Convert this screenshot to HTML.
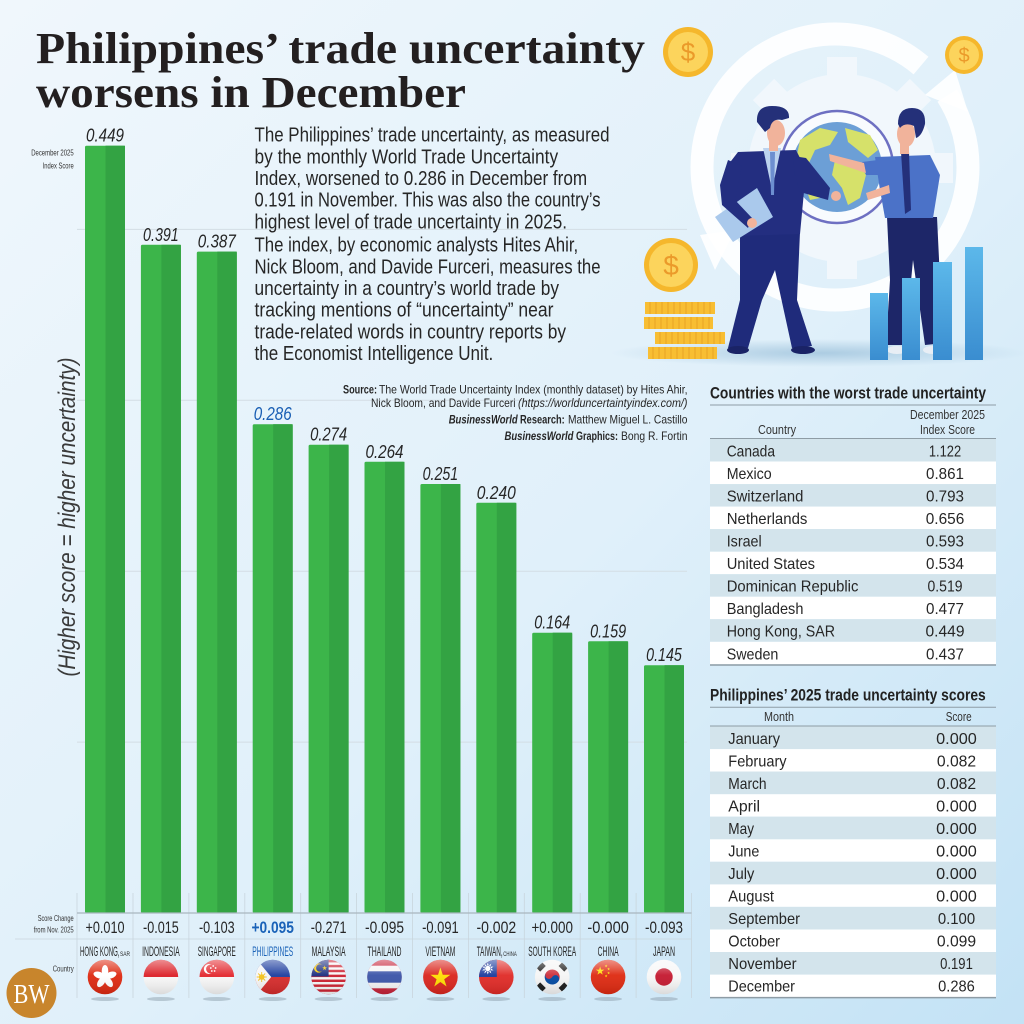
<!DOCTYPE html>
<html><head><meta charset="utf-8"><style>
html,body{margin:0;padding:0;width:1024px;height:1024px;overflow:hidden;background:#e6f3fb}
svg{display:block}
text{font-family:"Liberation Sans","DejaVu Sans",sans-serif;fill:#262626}
.sf{font-family:"Liberation Serif","DejaVu Serif",serif}
</style></head><body>
<svg width="1024" height="1024" viewBox="0 0 1024 1024" xmlns="http://www.w3.org/2000/svg">
<defs>
<linearGradient id="bg" x1="0" y1="0" x2="1" y2="1">
 <stop offset="0" stop-color="#f0f7fc"/>
 <stop offset="0.55" stop-color="#e0f0fa"/>
 <stop offset="1" stop-color="#c3e2f5"/>
</linearGradient>
<linearGradient id="gloss" x1="0" y1="0" x2="0" y2="1">
 <stop offset="0" stop-color="#fff" stop-opacity="0.5"/>
 <stop offset="0.45" stop-color="#fff" stop-opacity="0.05"/>
 <stop offset="1" stop-color="#000" stop-opacity="0.12"/>
</linearGradient>
<linearGradient id="bb" x1="0" y1="0" x2="0" y2="1">
 <stop offset="0" stop-color="#5cb8ea"/>
 <stop offset="1" stop-color="#3a8dd0"/>
</linearGradient>
<radialGradient id="flr" cx="0.5" cy="0.5" r="0.5">
 <stop offset="0" stop-color="#9fc3dc" stop-opacity="0.8"/>
 <stop offset="1" stop-color="#9fc3dc" stop-opacity="0"/>
</radialGradient>
<clipPath id="fc"><circle cx="0" cy="0" r="17.3"/></clipPath>
<polygon id="star" points="0,-1 0.2245,-0.309 0.951,-0.309 0.3633,0.118 0.5878,0.809 0,0.382 -0.5878,0.809 -0.3633,0.118 -0.951,-0.309 -0.2245,-0.309"/>
</defs>

<rect x="0" y="0" width="1024" height="1024" fill="url(#bg)"/>

<!-- ILLUSTRATION -->
<g>
 <ellipse cx="820" cy="353" rx="210" ry="14" fill="url(#flr)"/>
 <!-- gear -->
 <g transform="translate(842,168)" fill="#f4f9fd" opacity="0.85">
  <circle r="94"/>
  <rect x="-15" y="-111" width="30" height="30" transform="rotate(0)"/>
  <rect x="-15" y="-111" width="30" height="30" transform="rotate(45)"/>
  <rect x="-15" y="-111" width="30" height="30" transform="rotate(90)"/>
  <rect x="-15" y="-111" width="30" height="30" transform="rotate(135)"/>
  <rect x="-15" y="-111" width="30" height="30" transform="rotate(180)"/>
  <rect x="-15" y="-111" width="30" height="30" transform="rotate(225)"/>
  <rect x="-15" y="-111" width="30" height="30" transform="rotate(270)"/>
  <rect x="-15" y="-111" width="30" height="30" transform="rotate(315)"/>
 </g>
 <!-- ring -->
 <circle cx="835" cy="167" r="133" fill="none" stroke="#ffffff" stroke-width="23" opacity="0.9" stroke-dasharray="720 40 80 60"/>
 <polygon points="925,95 955,70 968,112" fill="#ffffff" opacity="0.9"/>
 <polygon points="700,235 735,230 715,270" fill="#ffffff" opacity="0.9"/>
 <!-- globe -->
 <circle cx="837" cy="167" r="56" fill="#f8fbfe"/>
 <circle cx="837" cy="167" r="56" fill="none" stroke="#6e70c2" stroke-width="2.5"/>
 <circle cx="837" cy="167" r="45" fill="#6c9fd6"/>
 <path d="M800,140 L820,128 L838,132 L830,145 L815,150 L808,165 L796,160 Z" fill="#d6e16a"/>
 <path d="M845,128 L870,135 L878,150 L868,158 L858,150 L848,142 Z" fill="#d6e16a"/>
 <path d="M835,160 L858,162 L866,175 L860,198 L848,205 L842,188 L832,175 Z" fill="#d6e16a"/>
 <path d="M802,178 L818,182 L820,198 L810,200 Z" fill="#d6e16a"/>
 <!-- man 1 -->
 <g>
  <polygon points="740,232 800,232 797,300 812,346 792,348 775,270 762,300 748,348 728,348 740,300" fill="#1f2b7b"/>
  <ellipse cx="738" cy="350" rx="11" ry="4" fill="#1a2366"/>
  <ellipse cx="803" cy="350" rx="12" ry="4" fill="#1a2366"/>
  <polygon points="738,152 796,150 806,170 800,234 737,236 724,190 728,165" fill="#232e80"/>
  <polygon points="763,148 781,148 772,190" fill="#bcd3ef"/>
  <polygon points="770,152 775,152 774,195 771,195" fill="#6d8fd0"/>
  <polygon points="793,156 806,158 830,188 828,200 800,192 795,175" fill="#232e80"/>
  <circle cx="836" cy="196" r="5" fill="#f1b39b"/>
  <polygon points="715,217 757,188 773,217 733,242" fill="#aac9ec"/>
  <polygon points="728,160 742,166 735,200 752,218 748,228 722,205 720,185" fill="#232e80"/>
  <circle cx="752" cy="223" r="5" fill="#f1b39b"/>
  <rect x="769" y="138" width="9" height="13" fill="#f1b39b"/>
  <ellipse cx="776" cy="133" rx="9" ry="13" fill="#f1b39b"/>
  <path d="M757,122 Q756,106 772,106 Q790,106 789,118 L782,120 Q772,118 770,128 L765,132 Z" fill="#243079"/>
 </g>
 <!-- man 2 -->
 <g>
  <polygon points="887,217 937,217 940,280 945,343 925,345 913,260 905,345 886,345 890,280" fill="#1d2668"/>
  <ellipse cx="897" cy="350" rx="10" ry="4" fill="#e8eef5"/>
  <ellipse cx="933" cy="350" rx="10" ry="4" fill="#e8eef5"/>
  <polygon points="875,157 930,155 940,175 933,218 885,218 880,190" fill="#4b72c8"/>
  <polygon points="901,152 909,152 911,210 905,214" fill="#24307a"/>
  <polygon points="878,160 890,175 866,175 862,162" fill="#4b72c8"/>
  <polygon points="864,163 866,173 830,161 829,154" fill="#f1b39b"/>
  <polygon points="889,185 890,193 868,200 866,193" fill="#f1b39b"/>
  <rect x="900" y="140" width="9" height="14" fill="#f1b39b"/>
  <ellipse cx="906" cy="134" rx="9" ry="13" fill="#f1b39b"/>
  <path d="M898,124 Q898,108 912,108 Q926,108 925,124 Q922,136 916,138 L914,126 Q905,122 900,128 Z" fill="#243079"/>
 </g>
 <!-- bars -->
 <rect x="870" y="293" width="18" height="67" fill="url(#bb)"/>
 <rect x="902" y="278" width="18" height="82" fill="url(#bb)"/>
 <rect x="933" y="262" width="19" height="98" fill="url(#bb)"/>
 <rect x="965" y="247" width="18" height="113" fill="url(#bb)"/>
 <!-- coins -->
 <g>
  <circle cx="688" cy="52" r="25" fill="#f5b72c"/>
  <circle cx="688" cy="52" r="20" fill="#fcd45c"/>
  <text x="688" y="61" font-size="26" text-anchor="middle" style="fill:#eb9a2a">$</text>
  <circle cx="964" cy="55" r="19" fill="#f5b72c"/>
  <circle cx="964" cy="55" r="15" fill="#fcd45c"/>
  <text x="964" y="62" font-size="20" text-anchor="middle" style="fill:#eb9a2a">$</text>
  <circle cx="671" cy="265" r="27" fill="#f5b72c"/>
  <circle cx="671" cy="265" r="22" fill="#fcd45c"/>
  <text x="671" y="275" font-size="28" text-anchor="middle" style="fill:#eb9a2a">$</text>
  <rect x="645" y="302" width="70" height="12" fill="#f8be33"/>
  <rect x="644" y="317" width="69" height="12" fill="#f8be33"/>
  <rect x="655" y="332" width="70" height="12" fill="#f8be33"/>
  <rect x="648" y="347" width="69" height="12" fill="#f8be33"/>
  <g stroke="#e39a1e" stroke-width="1" opacity="0.7">
   <path d="M650,302v12M656,302v12M662,302v12M668,302v12M674,302v12M680,302v12M686,302v12M692,302v12M698,302v12M704,302v12M710,302v12"/>
   <path d="M649,317v12M655,317v12M661,317v12M667,317v12M673,317v12M679,317v12M685,317v12M691,317v12M697,317v12M703,317v12M709,317v12"/>
   <path d="M660,332v12M666,332v12M672,332v12M678,332v12M684,332v12M690,332v12M696,332v12M702,332v12M708,332v12M714,332v12M720,332v12"/>
   <path d="M653,347v12M659,347v12M665,347v12M671,347v12M677,347v12M683,347v12M689,347v12M695,347v12M701,347v12M707,347v12M713,347v12"/>
  </g>
 </g>
</g>

<!-- TITLE -->
<text class="sf" x="36" y="63" font-size="44" font-weight="bold" textLength="609" lengthAdjust="spacingAndGlyphs" style="fill:#231f20">Philippines’ trade uncertainty</text>
<text class="sf" x="36" y="107" font-size="44" font-weight="bold" textLength="430" lengthAdjust="spacingAndGlyphs" style="fill:#231f20">worsens in December</text>

<!-- GRIDLINES -->
<g stroke="#d3dde4" stroke-width="1">
 <line x1="77" y1="229.4" x2="687" y2="229.4"/>
 <line x1="77" y1="400.3" x2="687" y2="400.3"/>
 <line x1="77" y1="571.2" x2="687" y2="571.2"/>
 <line x1="77" y1="742.1" x2="687" y2="742.1"/>
</g>

<!-- BODY TEXT -->
<g font-size="20" style="fill:#262626">
<text x="254.5" y="141.7" textLength="355" lengthAdjust="spacingAndGlyphs">The Philippines’ trade uncertainty, as measured</text>
<text x="254.5" y="163.4" textLength="303.6" lengthAdjust="spacingAndGlyphs">by the monthly World Trade Uncertainty</text>
<text x="254.5" y="185" textLength="332.6" lengthAdjust="spacingAndGlyphs">Index, worsened to 0.286 in December from</text>
<text x="254.5" y="206.7" textLength="346" lengthAdjust="spacingAndGlyphs">0.191 in November. This was also the country’s</text>
<text x="254.5" y="228.4" textLength="312.5" lengthAdjust="spacingAndGlyphs">highest level of trade uncertainty in 2025.</text>
<text x="254.5" y="251.7" textLength="323.7" lengthAdjust="spacingAndGlyphs">The index, by economic analysts Hites Ahir,</text>
<text x="254.5" y="273.4" textLength="346" lengthAdjust="spacingAndGlyphs">Nick Bloom, and Davide Furceri, measures the</text>
<text x="254.5" y="295" textLength="304.5" lengthAdjust="spacingAndGlyphs">uncertainty in a country’s world trade by</text>
<text x="254.5" y="316.7" textLength="299" lengthAdjust="spacingAndGlyphs">tracking mentions of “uncertainty” near</text>
<text x="254.5" y="338.4" textLength="311.6" lengthAdjust="spacingAndGlyphs">trade-related words in country reports by</text>
<text x="254.5" y="360" textLength="238.8" lengthAdjust="spacingAndGlyphs">the Economist Intelligence Unit.</text>
</g>

<!-- SOURCE -->
<g font-size="12" style="fill:#333">
<text x="343" y="393.5" font-weight="bold" textLength="34" lengthAdjust="spacingAndGlyphs">Source:</text>
<text x="379" y="393.5" textLength="308.5" lengthAdjust="spacingAndGlyphs">The World Trade Uncertainty Index (monthly dataset) by Hites Ahir,</text>
<text x="371" y="407" textLength="144.6" lengthAdjust="spacingAndGlyphs">Nick Bloom, and Davide Furceri</text>
<text x="518" y="407" font-style="italic" textLength="169.5" lengthAdjust="spacingAndGlyphs">(https://worlduncertaintyindex.com/)</text>
<text x="448.7" y="423.5" font-weight="bold" font-style="italic" textLength="69" lengthAdjust="spacingAndGlyphs">BusinessWorld</text>
<text x="520" y="423.5" font-weight="bold" textLength="44.7" lengthAdjust="spacingAndGlyphs">Research:</text>
<text x="568" y="423.5" textLength="119.5" lengthAdjust="spacingAndGlyphs">Matthew Miguel L. Castillo</text>
<text x="504.5" y="440" font-weight="bold" font-style="italic" textLength="69" lengthAdjust="spacingAndGlyphs">BusinessWorld</text>
<text x="576" y="440" font-weight="bold" textLength="42" lengthAdjust="spacingAndGlyphs">Graphics:</text>
<text x="621" y="440" textLength="66.5" lengthAdjust="spacingAndGlyphs">Bong R. Fortin</text>
</g>

<!-- AXIS LABELS -->
<text x="73.7" y="155.5" font-size="8.5" text-anchor="end" textLength="42.5" lengthAdjust="spacingAndGlyphs" style="fill:#333">December 2025</text>
<text x="73.7" y="168.5" font-size="8.5" text-anchor="end" textLength="31" lengthAdjust="spacingAndGlyphs" style="fill:#333">Index Score</text>
<text transform="translate(75,517) rotate(-90)" font-size="24" font-style="italic" text-anchor="middle" textLength="319" lengthAdjust="spacingAndGlyphs" style="fill:#3a3a3a">(Higher score = higher uncertainty)</text>

<!-- BARS -->
<g>
 <rect x="85" y="145.7" width="40" height="767.3" rx="1.5" fill="#3cb54a"/><rect x="105.5" y="145.7" width="19.5" height="767.3" fill="#33a343"/>
 <rect x="140.9" y="244.8" width="40" height="668.2" rx="1.5" fill="#3cb54a"/><rect x="161.4" y="244.8" width="19.5" height="668.2" fill="#33a343"/>
 <rect x="196.8" y="251.6" width="40" height="661.4" rx="1.5" fill="#3cb54a"/><rect x="217.3" y="251.6" width="19.5" height="661.4" fill="#33a343"/>
 <rect x="252.7" y="424.2" width="40" height="488.8" rx="1.5" fill="#3cb54a"/><rect x="273.2" y="424.2" width="19.5" height="488.8" fill="#33a343"/>
 <rect x="308.6" y="444.7" width="40" height="468.3" rx="1.5" fill="#3cb54a"/><rect x="329.1" y="444.7" width="19.5" height="468.3" fill="#33a343"/>
 <rect x="364.5" y="461.8" width="40" height="451.2" rx="1.5" fill="#3cb54a"/><rect x="385" y="461.8" width="19.5" height="451.2" fill="#33a343"/>
 <rect x="420.4" y="484" width="40" height="429" rx="1.5" fill="#3cb54a"/><rect x="440.9" y="484" width="19.5" height="429" fill="#33a343"/>
 <rect x="476.3" y="502.8" width="40" height="410.2" rx="1.5" fill="#3cb54a"/><rect x="496.8" y="502.8" width="19.5" height="410.2" fill="#33a343"/>
 <rect x="532.2" y="632.7" width="40" height="280.3" rx="1.5" fill="#3cb54a"/><rect x="552.7" y="632.7" width="19.5" height="280.3" fill="#33a343"/>
 <rect x="588.1" y="641.3" width="40" height="271.7" rx="1.5" fill="#3cb54a"/><rect x="608.6" y="641.3" width="19.5" height="271.7" fill="#33a343"/>
 <rect x="644" y="665.2" width="40" height="247.8" rx="1.5" fill="#3cb54a"/><rect x="664.5" y="665.2" width="19.5" height="247.8" fill="#33a343"/>
</g>

<!-- VALUE LABELS -->
<g font-size="18" font-style="italic" text-anchor="middle" style="fill:#262626">
 <text x="105" y="141.7" textLength="38" lengthAdjust="spacingAndGlyphs">0.449</text>
 <text x="160.9" y="240.8" textLength="35.7" lengthAdjust="spacingAndGlyphs">0.391</text>
 <text x="216.8" y="247.6" textLength="38" lengthAdjust="spacingAndGlyphs">0.387</text>
 <text x="272.7" y="420.2" textLength="38" lengthAdjust="spacingAndGlyphs" style="fill:#1a5fb4">0.286</text>
 <text x="328.6" y="440.7" textLength="37" lengthAdjust="spacingAndGlyphs">0.274</text>
 <text x="384.5" y="457.8" textLength="38" lengthAdjust="spacingAndGlyphs">0.264</text>
 <text x="440.4" y="480" textLength="35.5" lengthAdjust="spacingAndGlyphs">0.251</text>
 <text x="496.3" y="498.8" textLength="39" lengthAdjust="spacingAndGlyphs">0.240</text>
 <text x="552.2" y="628.7" textLength="36" lengthAdjust="spacingAndGlyphs">0.164</text>
 <text x="608.1" y="637.3" textLength="36" lengthAdjust="spacingAndGlyphs">0.159</text>
 <text x="664" y="661.2" textLength="35.7" lengthAdjust="spacingAndGlyphs">0.145</text>
</g>

<!-- BOTTOM GRID -->
<g stroke="#c9d5dd" stroke-width="0.8">
 <line x1="77" y1="893" x2="77" y2="998"/>
 <line x1="133" y1="893" x2="133" y2="998"/>
 <line x1="188.9" y1="893" x2="188.9" y2="998"/>
 <line x1="244.8" y1="893" x2="244.8" y2="998"/>
 <line x1="300.7" y1="893" x2="300.7" y2="998"/>
 <line x1="356.6" y1="893" x2="356.6" y2="998"/>
 <line x1="412.5" y1="893" x2="412.5" y2="998"/>
 <line x1="468.4" y1="893" x2="468.4" y2="998"/>
 <line x1="524.3" y1="893" x2="524.3" y2="998"/>
 <line x1="580.2" y1="893" x2="580.2" y2="998"/>
 <line x1="636.1" y1="893" x2="636.1" y2="998"/>
 <line x1="691.5" y1="893" x2="691.5" y2="998"/>
 <line x1="15" y1="939" x2="691.5" y2="939"/>
</g>
<line x1="77" y1="913" x2="691.5" y2="913" stroke="#a9b6bf" stroke-width="1.2"/>

<!-- SCORE CHANGE -->
<text x="73.7" y="921" font-size="8.5" text-anchor="end" textLength="36" lengthAdjust="spacingAndGlyphs" style="fill:#333">Score Change</text>
<text x="73.7" y="932.5" font-size="8.5" text-anchor="end" textLength="40" lengthAdjust="spacingAndGlyphs" style="fill:#333">from Nov. 2025</text>
<text x="73.7" y="971.5" font-size="8.5" text-anchor="end" textLength="21" lengthAdjust="spacingAndGlyphs" style="fill:#333">Country</text>
<g font-size="17" text-anchor="middle" style="fill:#3a3a3a">
 <text x="105" y="933" textLength="39" lengthAdjust="spacingAndGlyphs">+0.010</text>
 <text x="160.9" y="933" textLength="35.7" lengthAdjust="spacingAndGlyphs">-0.015</text>
 <text x="216.8" y="933" textLength="35.7" lengthAdjust="spacingAndGlyphs">-0.103</text>
 <text x="272.7" y="933" textLength="42.4" lengthAdjust="spacingAndGlyphs" font-weight="bold" style="fill:#1a62b8">+0.095</text>
 <text x="328.6" y="933" textLength="35.7" lengthAdjust="spacingAndGlyphs">-0.271</text>
 <text x="384.5" y="933" textLength="39" lengthAdjust="spacingAndGlyphs">-0.095</text>
 <text x="440.4" y="933" textLength="36.6" lengthAdjust="spacingAndGlyphs">-0.091</text>
 <text x="496.3" y="933" textLength="39.7" lengthAdjust="spacingAndGlyphs">-0.002</text>
 <text x="552.2" y="933" textLength="41.5" lengthAdjust="spacingAndGlyphs">+0.000</text>
 <text x="608.1" y="933" textLength="41.5" lengthAdjust="spacingAndGlyphs">-0.000</text>
 <text x="664" y="933" textLength="38" lengthAdjust="spacingAndGlyphs">-0.093</text>
</g>

<!-- COUNTRY NAMES -->
<g font-size="14" style="fill:#2e2e2e">
 <text x="80" y="956" textLength="39.5" lengthAdjust="spacingAndGlyphs">HONG KONG,</text>
 <text x="120" y="956" font-size="6" textLength="10" lengthAdjust="spacingAndGlyphs">SAR</text>
 <text x="160.9" y="956" text-anchor="middle" textLength="37.5" lengthAdjust="spacingAndGlyphs">INDONESIA</text>
 <text x="216.8" y="956" text-anchor="middle" textLength="38" lengthAdjust="spacingAndGlyphs">SINGAPORE</text>
 <text x="272.7" y="956" text-anchor="middle" textLength="41" lengthAdjust="spacingAndGlyphs" style="fill:#1a62b8">PHILIPPINES</text>
 <text x="328.6" y="956" text-anchor="middle" textLength="34" lengthAdjust="spacingAndGlyphs">MALAYSIA</text>
 <text x="384.5" y="956" text-anchor="middle" textLength="34" lengthAdjust="spacingAndGlyphs">THAILAND</text>
 <text x="440.4" y="956" text-anchor="middle" textLength="30" lengthAdjust="spacingAndGlyphs">VIETNAM</text>
 <text x="476.7" y="956" textLength="26" lengthAdjust="spacingAndGlyphs">TAIWAN,</text>
 <text x="503.3" y="956" font-size="6" textLength="13.4" lengthAdjust="spacingAndGlyphs">CHINA</text>
 <text x="552.2" y="956" text-anchor="middle" textLength="48" lengthAdjust="spacingAndGlyphs">SOUTH KOREA</text>
 <text x="608.1" y="956" text-anchor="middle" textLength="21" lengthAdjust="spacingAndGlyphs">CHINA</text>
 <text x="664" y="956" text-anchor="middle" textLength="22" lengthAdjust="spacingAndGlyphs">JAPAN</text>
</g>

<!-- FLAGS -->
<g transform="translate(105,977)">
 <ellipse cx="0" cy="22" rx="14" ry="2" fill="#8596a3" opacity="0.45"/>
 <g clip-path="url(#fc)">
  <rect x="-18" y="-18" width="36" height="36" fill="#de2910"/>
  <g fill="#fff">
   <ellipse cx="0" cy="-6" rx="3.3" ry="6"/>
   <ellipse cx="0" cy="-6" rx="3.3" ry="6" transform="rotate(72)"/>
   <ellipse cx="0" cy="-6" rx="3.3" ry="6" transform="rotate(144)"/>
   <ellipse cx="0" cy="-6" rx="3.3" ry="6" transform="rotate(216)"/>
   <ellipse cx="0" cy="-6" rx="3.3" ry="6" transform="rotate(288)"/>
  </g>
 </g>
 <circle r="17.3" fill="url(#gloss)"/>
</g>
<g transform="translate(160.9,977)">
 <ellipse cx="0" cy="22" rx="14" ry="2" fill="#8596a3" opacity="0.45"/>
 <g clip-path="url(#fc)">
  <rect x="-18" y="-18" width="36" height="18" fill="#dc1f26"/>
  <rect x="-18" y="0" width="36" height="18" fill="#f7f7f7"/>
 </g>
 <circle r="17.3" fill="url(#gloss)"/>
</g>
<g transform="translate(216.8,977)">
 <ellipse cx="0" cy="22" rx="14" ry="2" fill="#8596a3" opacity="0.45"/>
 <g clip-path="url(#fc)">
  <rect x="-18" y="-18" width="36" height="18" fill="#e3262c"/>
  <rect x="-18" y="0" width="36" height="18" fill="#f7f7f7"/>
  <circle cx="-8" cy="-8" r="5" fill="#fff"/>
  <circle cx="-6.3" cy="-8" r="4.4" fill="#e3262c"/>
  <g fill="#fff">
   <circle cx="-3.6" cy="-11" r="0.9"/><circle cx="-1.2" cy="-9" r="0.9"/><circle cx="-2.2" cy="-6" r="0.9"/><circle cx="-5" cy="-6" r="0.9"/><circle cx="-6" cy="-9" r="0.9"/>
  </g>
 </g>
 <circle r="17.3" fill="url(#gloss)"/>
</g>
<g transform="translate(272.7,977)">
 <ellipse cx="0" cy="22" rx="14" ry="2" fill="#8596a3" opacity="0.45"/>
 <g clip-path="url(#fc)">
  <rect x="-18" y="-18" width="36" height="18" fill="#1c3d9e"/>
  <rect x="-18" y="0" width="36" height="18" fill="#d52b2b"/>
  <polygon points="-18,-20 -18,20 -1.5,0" fill="#f5f5f5"/>
  <circle cx="-11" cy="0" r="2.8" fill="#f3c21a"/>
  <g stroke="#f3c21a" stroke-width="0.9">
   <line x1="-11" y1="-5" x2="-11" y2="5"/><line x1="-16" y1="0" x2="-6" y2="0"/>
   <line x1="-14.5" y1="-3.5" x2="-7.5" y2="3.5"/><line x1="-14.5" y1="3.5" x2="-7.5" y2="-3.5"/>
  </g>
 </g>
 <circle r="17.3" fill="url(#gloss)"/>
</g>
<g transform="translate(328.6,977)">
 <ellipse cx="0" cy="22" rx="14" ry="2" fill="#8596a3" opacity="0.45"/>
 <g clip-path="url(#fc)">
  <rect x="-18" y="-18" width="36" height="36" fill="#cc1f2f"/>
  <g fill="#f7f7f7">
   <rect x="-18" y="-14.6" width="36" height="2.45"/>
   <rect x="-18" y="-9.7" width="36" height="2.45"/>
   <rect x="-18" y="-4.8" width="36" height="2.45"/>
   <rect x="-18" y="0.1" width="36" height="2.45"/>
   <rect x="-18" y="5" width="36" height="2.45"/>
   <rect x="-18" y="9.9" width="36" height="2.45"/>
   <rect x="-18" y="14.8" width="36" height="2.45"/>
  </g>
  <rect x="-18" y="-18" width="18" height="17.5" fill="#1a2c7e"/>
  <circle cx="-10" cy="-9" r="4.6" fill="#f7c800"/>
  <circle cx="-8.7" cy="-9" r="3.8" fill="#1a2c7e"/>
  <use href="#star" transform="translate(-4,-9) scale(2.6)" fill="#f7c800"/>
 </g>
 <circle r="17.3" fill="url(#gloss)"/>
</g>
<g transform="translate(384.5,977)">
 <ellipse cx="0" cy="22" rx="14" ry="2" fill="#8596a3" opacity="0.45"/>
 <g clip-path="url(#fc)">
  <rect x="-18" y="-18" width="36" height="36" fill="#c7243a"/>
  <rect x="-18" y="-11.3" width="36" height="22.6" fill="#f5f5f5"/>
  <rect x="-18" y="-5.7" width="36" height="11.4" fill="#3a54a8"/>
 </g>
 <circle r="17.3" fill="url(#gloss)"/>
</g>
<g transform="translate(440.4,977)">
 <ellipse cx="0" cy="22" rx="14" ry="2" fill="#8596a3" opacity="0.45"/>
 <g clip-path="url(#fc)">
  <rect x="-18" y="-18" width="36" height="36" fill="#da251d"/>
  <use href="#star" transform="translate(0,1) scale(10.5)" fill="#ffde00"/>
 </g>
 <circle r="17.3" fill="url(#gloss)"/>
</g>
<g transform="translate(496.3,977)">
 <ellipse cx="0" cy="22" rx="14" ry="2" fill="#8596a3" opacity="0.45"/>
 <g clip-path="url(#fc)">
  <rect x="-18" y="-18" width="36" height="36" fill="#e02a26"/>
  <rect x="-18" y="-18" width="18.5" height="18" fill="#1a3a9c"/>
  <use href="#star" transform="translate(-8.5,-8.5) scale(6)" fill="#fff"/>
  <use href="#star" transform="translate(-8.5,-8.5) rotate(36) scale(6)" fill="#fff"/>
  <circle cx="-8.5" cy="-8.5" r="3.3" fill="#1a3a9c"/>
  <circle cx="-8.5" cy="-8.5" r="2.7" fill="#fff"/>
 </g>
 <circle r="17.3" fill="url(#gloss)"/>
</g>
<g transform="translate(552.2,977)">
 <ellipse cx="0" cy="22" rx="14" ry="2" fill="#8596a3" opacity="0.45"/>
 <g clip-path="url(#fc)">
  <rect x="-18" y="-18" width="36" height="36" fill="#f5f5f5"/>
  <g transform="rotate(30)">
   <path d="M-7.5,0 A7.5,7.5 0 0 1 7.5,0 Z" fill="#cd2e3a"/>
   <path d="M-7.5,0 A7.5,7.5 0 0 0 7.5,0 Z" fill="#0047a0"/>
   <circle cx="-3.75" cy="0" r="3.75" fill="#cd2e3a"/>
   <circle cx="3.75" cy="0" r="3.75" fill="#0047a0"/>
  </g>
  <g fill="#1a1a1a">
   <rect x="-4" y="-2.5" width="8" height="5" transform="translate(-11,-10) rotate(-45)"/>
   <rect x="-4" y="-2.5" width="8" height="5" transform="translate(11,-10) rotate(45)"/>
   <rect x="-4" y="-2.5" width="8" height="5" transform="translate(-11,10) rotate(45)"/>
   <rect x="-4" y="-2.5" width="8" height="5" transform="translate(11,10) rotate(-45)"/>
  </g>
 </g>
 <circle r="17.3" fill="url(#gloss)"/>
</g>
<g transform="translate(608.1,977)">
 <ellipse cx="0" cy="22" rx="14" ry="2" fill="#8596a3" opacity="0.45"/>
 <g clip-path="url(#fc)">
  <rect x="-18" y="-18" width="36" height="36" fill="#de2910"/>
  <use href="#star" transform="translate(-8,-6) scale(4.5)" fill="#ffde00"/>
  <use href="#star" transform="translate(-2,-11) scale(1.5)" fill="#ffde00"/>
  <use href="#star" transform="translate(0.5,-8) scale(1.5)" fill="#ffde00"/>
  <use href="#star" transform="translate(0.5,-4) scale(1.5)" fill="#ffde00"/>
  <use href="#star" transform="translate(-2,-1) scale(1.5)" fill="#ffde00"/>
 </g>
 <circle r="17.3" fill="url(#gloss)"/>
</g>
<g transform="translate(664,977)">
 <ellipse cx="0" cy="22" rx="14" ry="2" fill="#8596a3" opacity="0.45"/>
 <g clip-path="url(#fc)">
  <rect x="-18" y="-18" width="36" height="36" fill="#f7f7f7"/>
  <circle r="8.7" fill="#c4182f"/>
 </g>
 <circle r="17.3" fill="url(#gloss)"/>
</g>

<!-- BW LOGO -->
<circle cx="31.5" cy="993" r="25" fill="#c8852c"/>
<text class="sf" x="31.5" y="1003" font-size="27" text-anchor="middle" textLength="36" lengthAdjust="spacingAndGlyphs" style="fill:#fff">BW</text>

<!-- TABLE 1 -->
<text x="710" y="398.5" font-size="17" font-weight="bold" textLength="276" lengthAdjust="spacingAndGlyphs" style="fill:#222">Countries with the worst trade uncertainty</text>
<line x1="710" y1="405" x2="996" y2="405" stroke="#8e9ca5" stroke-width="1"/>
<text x="777" y="434" font-size="13" text-anchor="middle" textLength="38" lengthAdjust="spacingAndGlyphs" style="fill:#333">Country</text>
<text x="947.5" y="419" font-size="13" text-anchor="middle" textLength="75" lengthAdjust="spacingAndGlyphs" style="fill:#333">December 2025</text>
<text x="947.5" y="434" font-size="13" text-anchor="middle" textLength="55" lengthAdjust="spacingAndGlyphs" style="fill:#333">Index Score</text>
<line x1="710" y1="438.5" x2="996" y2="438.5" stroke="#8e9ca5" stroke-width="1"/>
<g>
 <rect x="710" y="439" width="286" height="22.5" fill="#d3e4ec"/>
 <rect x="710" y="461.5" width="286" height="22.6" fill="#ffffff"/>
 <rect x="710" y="484.1" width="286" height="22.5" fill="#d3e4ec"/>
 <rect x="710" y="506.6" width="286" height="22.5" fill="#ffffff"/>
 <rect x="710" y="529.1" width="286" height="22.6" fill="#d3e4ec"/>
 <rect x="710" y="551.7" width="286" height="22.5" fill="#ffffff"/>
 <rect x="710" y="574.2" width="286" height="22.5" fill="#d3e4ec"/>
 <rect x="710" y="596.7" width="286" height="22.5" fill="#ffffff"/>
 <rect x="710" y="619.2" width="286" height="22.6" fill="#d3e4ec"/>
 <rect x="710" y="641.8" width="286" height="22.5" fill="#ffffff"/>
</g>
<line x1="710" y1="665" x2="996" y2="665" stroke="#8e9ca5" stroke-width="1.5"/>
<g font-size="16" style="fill:#222">
 <text x="726.7" y="456.5" textLength="48.3" lengthAdjust="spacingAndGlyphs">Canada</text>
 <text x="726.7" y="479" textLength="45" lengthAdjust="spacingAndGlyphs">Mexico</text>
 <text x="726.7" y="501.6" textLength="76.7" lengthAdjust="spacingAndGlyphs">Switzerland</text>
 <text x="726.7" y="524.1" textLength="80.7" lengthAdjust="spacingAndGlyphs">Netherlands</text>
 <text x="726.7" y="546.6" textLength="35" lengthAdjust="spacingAndGlyphs">Israel</text>
 <text x="726.7" y="569.2" textLength="88.3" lengthAdjust="spacingAndGlyphs">United States</text>
 <text x="726.7" y="591.7" textLength="131.7" lengthAdjust="spacingAndGlyphs">Dominican Republic</text>
 <text x="726.7" y="614.2" textLength="76.7" lengthAdjust="spacingAndGlyphs">Bangladesh</text>
 <text x="726.7" y="636.7" textLength="108.3" lengthAdjust="spacingAndGlyphs">Hong Kong, SAR</text>
 <text x="726.7" y="659.3" textLength="51.7" lengthAdjust="spacingAndGlyphs">Sweden</text>
</g>
<g font-size="16" text-anchor="middle" style="fill:#222">
 <text x="945" y="456.5" textLength="32.3" lengthAdjust="spacingAndGlyphs">1.122</text>
 <text x="945" y="479" textLength="38" lengthAdjust="spacingAndGlyphs">0.861</text>
 <text x="945" y="501.6" textLength="38" lengthAdjust="spacingAndGlyphs">0.793</text>
 <text x="945" y="524.1" textLength="38.5" lengthAdjust="spacingAndGlyphs">0.656</text>
 <text x="945" y="546.6" textLength="38" lengthAdjust="spacingAndGlyphs">0.593</text>
 <text x="945" y="569.2" textLength="38" lengthAdjust="spacingAndGlyphs">0.534</text>
 <text x="945" y="591.7" textLength="35" lengthAdjust="spacingAndGlyphs">0.519</text>
 <text x="945" y="614.2" textLength="38" lengthAdjust="spacingAndGlyphs">0.477</text>
 <text x="945" y="636.7" textLength="39" lengthAdjust="spacingAndGlyphs">0.449</text>
 <text x="945" y="659.3" textLength="38" lengthAdjust="spacingAndGlyphs">0.437</text>
</g>

<!-- TABLE 2 -->
<text x="710" y="700.5" font-size="17" font-weight="bold" textLength="275.7" lengthAdjust="spacingAndGlyphs" style="fill:#222">Philippines’ 2025 trade uncertainty scores</text>
<line x1="710" y1="707.3" x2="996" y2="707.3" stroke="#8e9ca5" stroke-width="1"/>
<text x="779" y="721" font-size="13" text-anchor="middle" textLength="30" lengthAdjust="spacingAndGlyphs" style="fill:#333">Month</text>
<text x="958.7" y="721" font-size="13" text-anchor="middle" textLength="26" lengthAdjust="spacingAndGlyphs" style="fill:#333">Score</text>
<line x1="710" y1="726" x2="996" y2="726" stroke="#8e9ca5" stroke-width="1"/>
<g>
 <rect x="710" y="726.5" width="286" height="22.6" fill="#d3e4ec"/>
 <rect x="710" y="749.1" width="286" height="22.5" fill="#ffffff"/>
 <rect x="710" y="771.6" width="286" height="22.6" fill="#d3e4ec"/>
 <rect x="710" y="794.2" width="286" height="22.5" fill="#ffffff"/>
 <rect x="710" y="816.7" width="286" height="22.6" fill="#d3e4ec"/>
 <rect x="710" y="839.3" width="286" height="22.5" fill="#ffffff"/>
 <rect x="710" y="861.8" width="286" height="22.6" fill="#d3e4ec"/>
 <rect x="710" y="884.4" width="286" height="22.5" fill="#ffffff"/>
 <rect x="710" y="906.9" width="286" height="22.6" fill="#d3e4ec"/>
 <rect x="710" y="929.5" width="286" height="22.5" fill="#ffffff"/>
 <rect x="710" y="952" width="286" height="22.6" fill="#d3e4ec"/>
 <rect x="710" y="974.6" width="286" height="22.5" fill="#ffffff"/>
</g>
<line x1="710" y1="997.6" x2="996" y2="997.6" stroke="#8e9ca5" stroke-width="1.5"/>
<g font-size="16" style="fill:#222">
 <text x="728.3" y="744" textLength="51.7" lengthAdjust="spacingAndGlyphs">January</text>
 <text x="728.3" y="766.5" textLength="58.3" lengthAdjust="spacingAndGlyphs">February</text>
 <text x="728.3" y="789" textLength="38.3" lengthAdjust="spacingAndGlyphs">March</text>
 <text x="728.3" y="811.5" textLength="31.7" lengthAdjust="spacingAndGlyphs">April</text>
 <text x="728.3" y="834" textLength="25.7" lengthAdjust="spacingAndGlyphs">May</text>
 <text x="728.3" y="856.5" textLength="31" lengthAdjust="spacingAndGlyphs">June</text>
 <text x="728.3" y="879" textLength="26" lengthAdjust="spacingAndGlyphs">July</text>
 <text x="728.3" y="901.5" textLength="45.7" lengthAdjust="spacingAndGlyphs">August</text>
 <text x="728.3" y="924" textLength="71.7" lengthAdjust="spacingAndGlyphs">September</text>
 <text x="728.3" y="946.5" textLength="51.7" lengthAdjust="spacingAndGlyphs">October</text>
 <text x="728.3" y="969" textLength="68.3" lengthAdjust="spacingAndGlyphs">November</text>
 <text x="728.3" y="991.5" textLength="66.7" lengthAdjust="spacingAndGlyphs">December</text>
</g>
<g font-size="16" text-anchor="middle" style="fill:#222">
 <text x="956.5" y="744" textLength="40.7" lengthAdjust="spacingAndGlyphs">0.000</text>
 <text x="956.5" y="766.5" textLength="39.3" lengthAdjust="spacingAndGlyphs">0.082</text>
 <text x="956.5" y="789" textLength="39.3" lengthAdjust="spacingAndGlyphs">0.082</text>
 <text x="956.5" y="811.5" textLength="40.7" lengthAdjust="spacingAndGlyphs">0.000</text>
 <text x="956.5" y="834" textLength="40.7" lengthAdjust="spacingAndGlyphs">0.000</text>
 <text x="956.5" y="856.5" textLength="40.7" lengthAdjust="spacingAndGlyphs">0.000</text>
 <text x="956.5" y="879" textLength="40.7" lengthAdjust="spacingAndGlyphs">0.000</text>
 <text x="956.5" y="901.5" textLength="40.7" lengthAdjust="spacingAndGlyphs">0.000</text>
 <text x="956.5" y="924" textLength="37.3" lengthAdjust="spacingAndGlyphs">0.100</text>
 <text x="956.5" y="946.5" textLength="39.3" lengthAdjust="spacingAndGlyphs">0.099</text>
 <text x="956.5" y="969" textLength="32.7" lengthAdjust="spacingAndGlyphs">0.191</text>
 <text x="956.5" y="991.5" textLength="36.7" lengthAdjust="spacingAndGlyphs">0.286</text>
</g>
</svg>
</body></html>
